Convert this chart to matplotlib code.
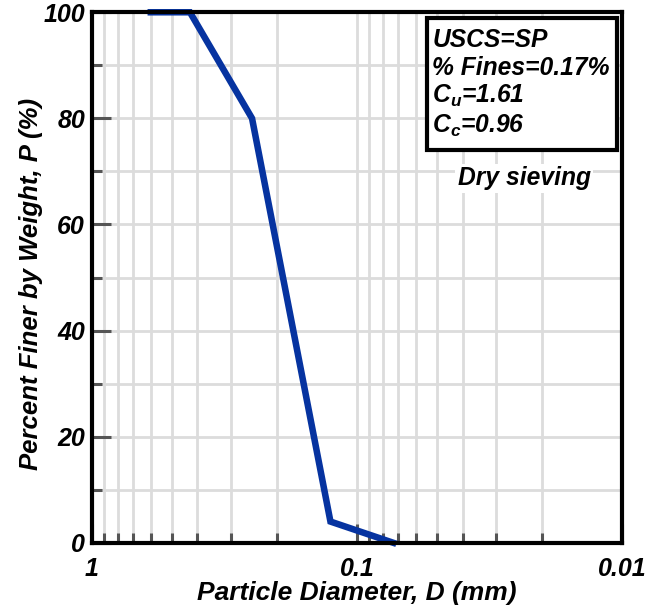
import matplotlib.pyplot as plt
from matplotlib.patches import Rectangle
from matplotlib.ticker import FixedLocator, NullFormatter

plt.rcParams['font.family'] = 'Liberation Sans'
plt.rcParams['font.weight'] = 'bold'
plt.rcParams['font.style'] = 'italic'
plt.rcParams['axes.labelweight'] = 'bold'
plt.rcParams['mathtext.fontset'] = 'custom'
plt.rcParams['mathtext.it'] = 'Liberation Sans:bold:italic'
plt.rcParams['mathtext.rm'] = 'Liberation Sans:bold:italic'
plt.rcParams['mathtext.default'] = 'it'

# sieve curve
diameter = [0.60, 0.427, 0.249, 0.126, 0.073]
finer = [100, 100, 80, 4, 0]

x_major = [1, 0.1, 0.01]
x_labels = ['1', '0.1', '0.01']
x_minor = [0.9, 0.8, 0.7, 0.6, 0.5, 0.4, 0.3, 0.2,
           0.09, 0.08, 0.07, 0.06, 0.05, 0.04, 0.03, 0.02]
y_major = [0, 20, 40, 60, 80, 100]
y_minor = [10, 30, 50, 70, 90]

info_lines = ['USCS=SP', '% Fines=0.17%', 'C$_u$=1.61', 'C$_c$=0.96']
info_y = [0.934, 0.881, 0.829, 0.772]

fig = plt.figure(figsize=(6.48, 6.14), dpi=100)
ax = fig.add_axes([0.142, 0.116, 0.818, 0.864])

ax.plot(diameter, finer, color='#0633a0', lw=4.7, solid_joinstyle='miter',
        clip_on=False, zorder=5)

ax.set_xscale('log')
ax.set_xlim(1, 0.01)
ax.set_ylim(0, 100)
ax.xaxis.set_major_locator(FixedLocator(x_major))
ax.xaxis.set_minor_locator(FixedLocator(x_minor))
ax.set_xticklabels(x_labels)
ax.xaxis.set_minor_formatter(NullFormatter())
ax.yaxis.set_major_locator(FixedLocator(y_major))
ax.yaxis.set_minor_locator(FixedLocator(y_minor))

ax.grid(True, which='both', color='#dcdcdc', lw=2, zorder=0)
ax.set_axisbelow(True)

ax.tick_params(which='both', direction='in', color='#555555', width=2.2,
               labelsize=18)
ax.tick_params(which='major', length=14, pad=5)
ax.tick_params(which='minor', length=7)
ax.tick_params(axis='x', which='major', pad=10)

for s in ax.spines.values():
    s.set_linewidth(3)
    s.set_zorder(6)

ax.set_xlabel('Particle Diameter, D (mm)', fontsize=19, labelpad=0)
ax.set_ylabel('Percent Finer by Weight, P (%)', fontsize=18.5)
ax.yaxis.set_label_coords(-0.092, 0.487)

ax.add_patch(Rectangle((0.632, 0.740), 0.359, 0.249, transform=ax.transAxes,
                       fc='white', ec='black', lw=3, zorder=7))
for line, yy in zip(info_lines, info_y):
    ax.text(0.642, yy, line, transform=ax.transAxes, fontsize=17.7,
            ha='left', va='baseline', zorder=8)
ax.text(0.815, 0.687, 'Dry sieving', transform=ax.transAxes, fontsize=17.7,
        ha='center', va='center', zorder=7,
        bbox=dict(boxstyle='square,pad=0.1', fc='white', ec='none'))

fig.savefig('out.png', dpi=100)
